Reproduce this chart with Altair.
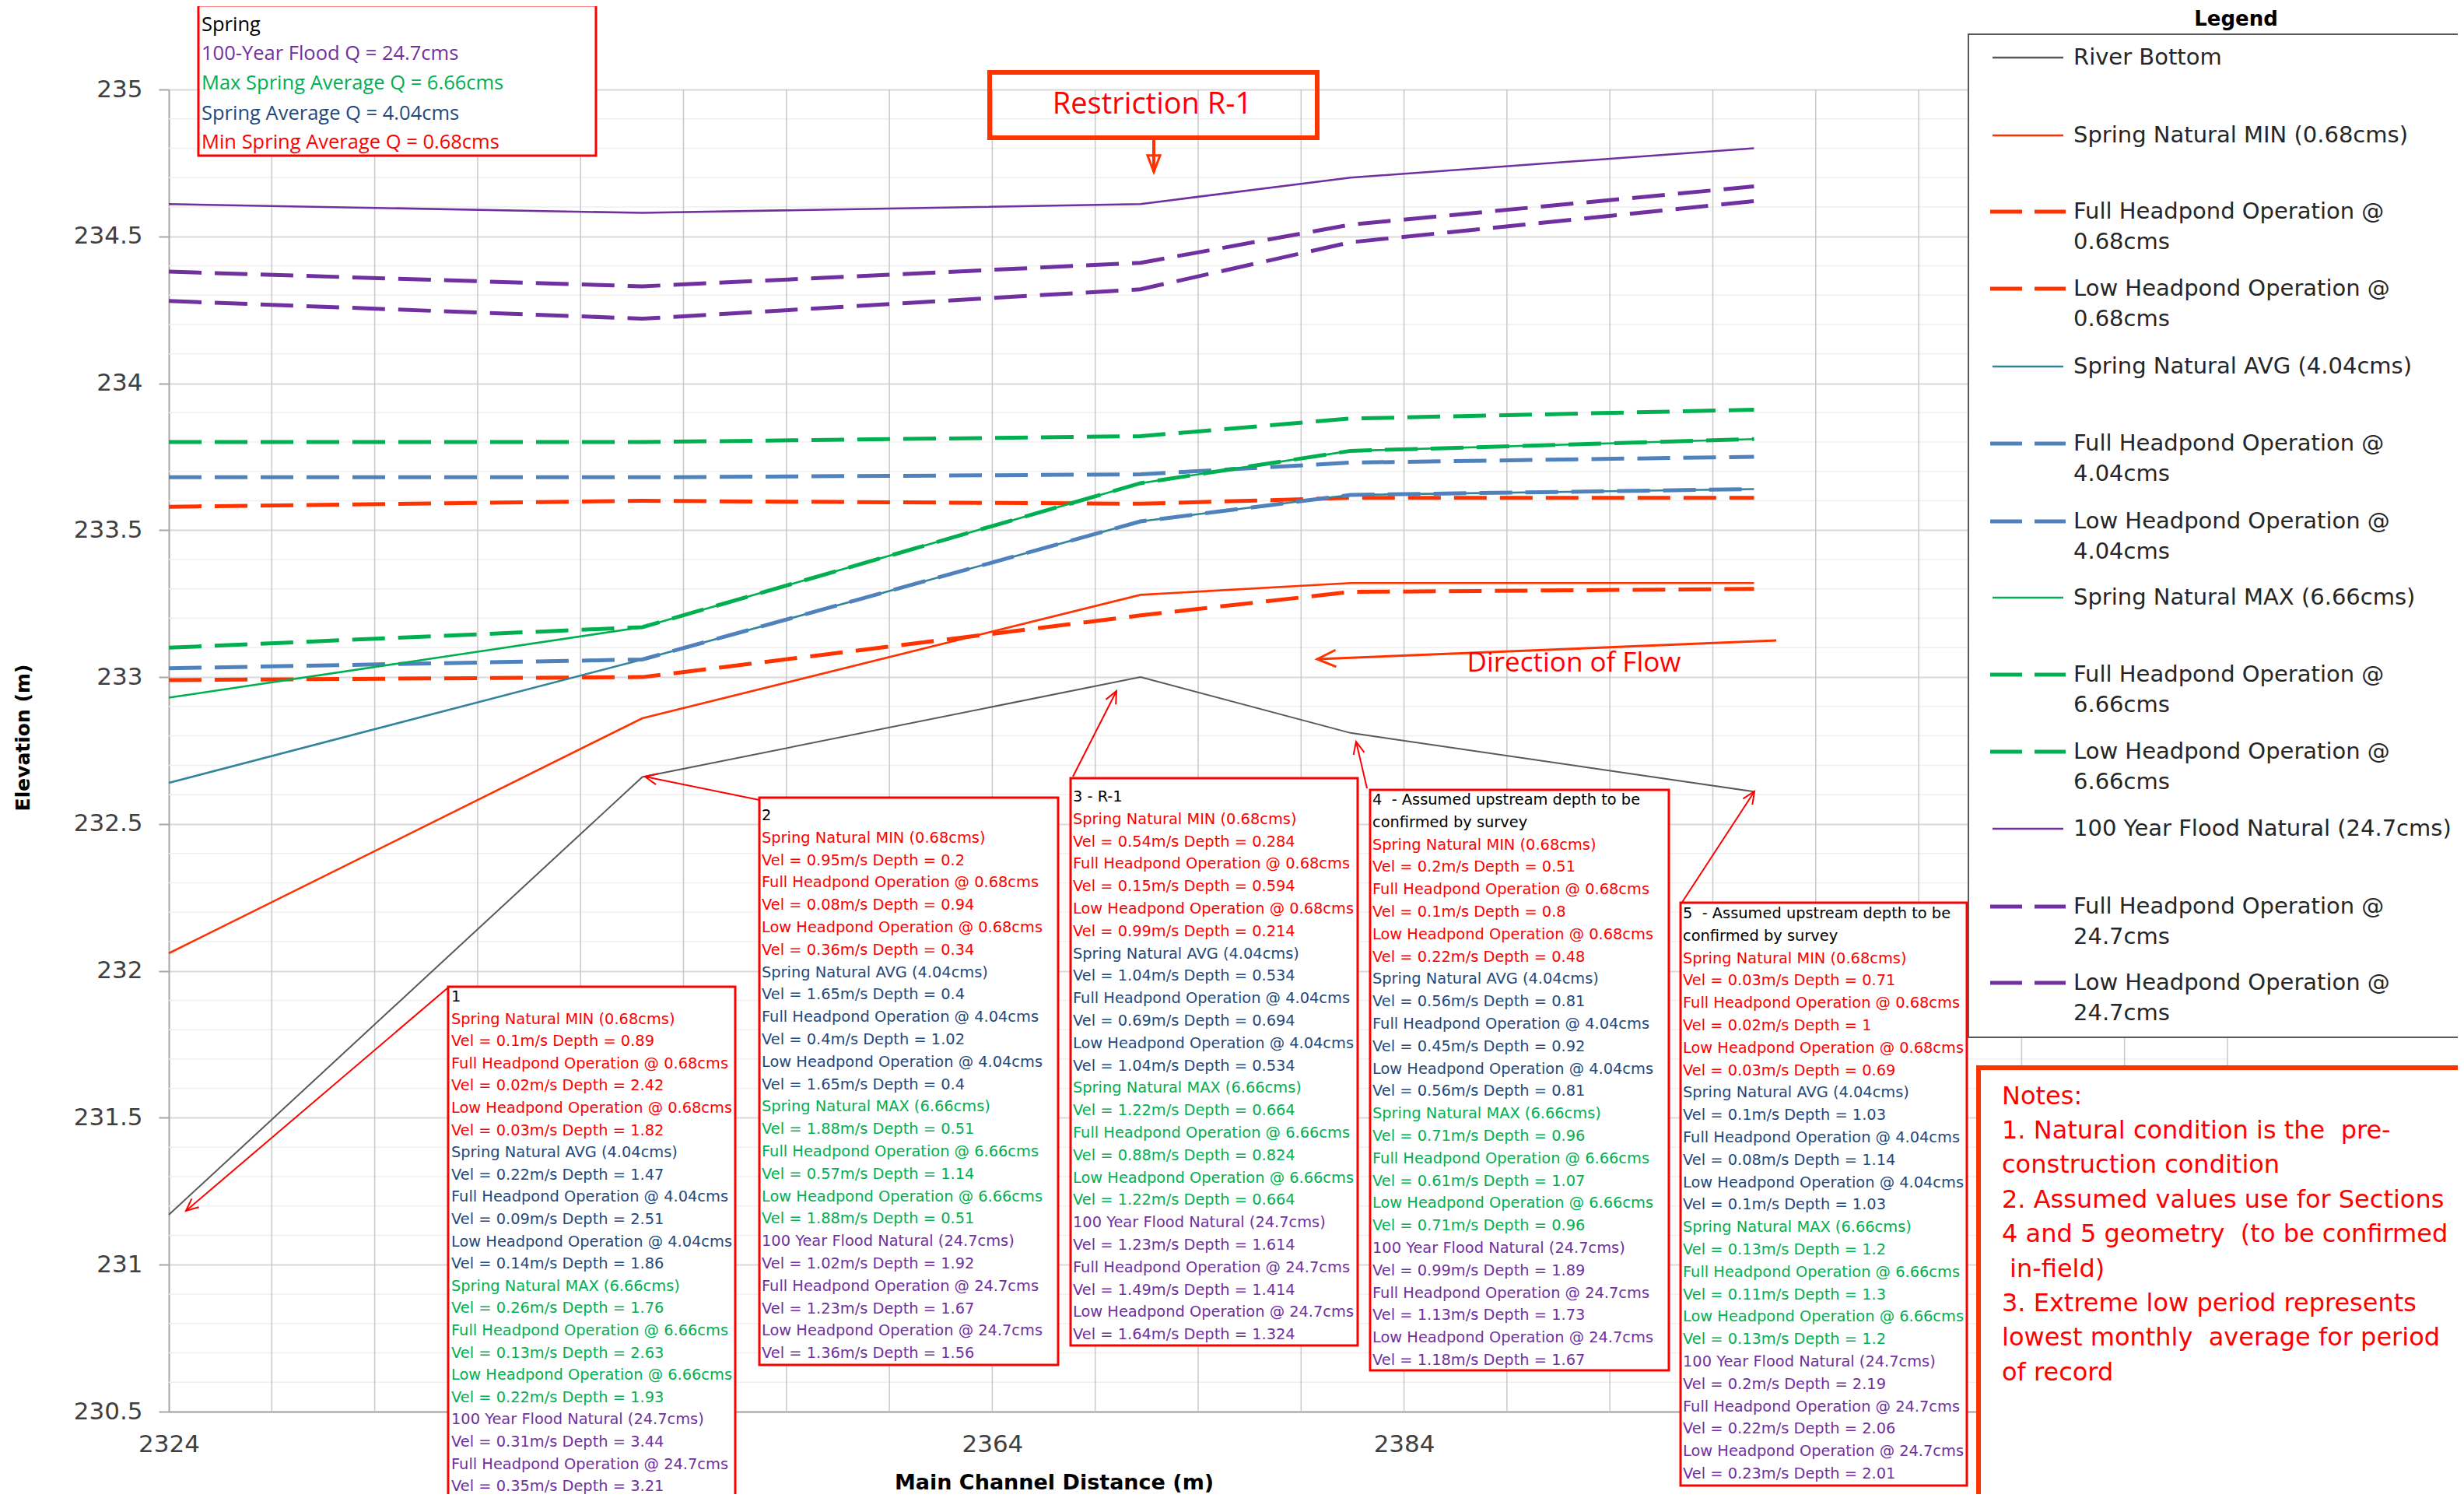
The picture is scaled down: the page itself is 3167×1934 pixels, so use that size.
import math
import altair as alt
import pandas as pd

# ---------------- values ----------------
distance = [2324.0, 2347.0, 2371.2, 2381.4, 2401.0]

river_bottom = [231.17, 232.66, 233.00, 232.81, 232.61]
spring_min   = [232.06, 232.86, 233.28, 233.32, 233.32]
full_068     = [233.58, 233.60, 233.59, 233.61, 233.61]
low_068      = [232.99, 233.00, 233.21, 233.29, 233.30]
spring_avg   = [232.64, 233.06, 233.53, 233.62, 233.64]
full_404     = [233.68, 233.68, 233.69, 233.73, 233.75]
low_404      = [233.03, 233.06, 233.53, 233.62, 233.64]
spring_max   = [232.93, 233.17, 233.66, 233.77, 233.81]
full_666     = [233.80, 233.80, 233.82, 233.88, 233.91]
low_666      = [233.10, 233.17, 233.66, 233.77, 233.81]
flood_nat    = [234.61, 234.58, 234.61, 234.70, 234.80]
full_247     = [234.38, 234.33, 234.41, 234.54, 234.67]
low_247      = [234.28, 234.22, 234.32, 234.48, 234.62]

x_ticks = [2324, 2364, 2384]
y_ticks = [230.5, 231, 231.5, 232, 232.5, 233, 233.5, 234, 234.5, 235]

conditions = ["Spring Natural MIN (0.68cms)", "Full Headpond Operation @ 0.68cms",
              "Low Headpond Operation @ 0.68cms", "Spring Natural AVG (4.04cms)",
              "Full Headpond Operation @ 4.04cms", "Low Headpond Operation @ 4.04cms",
              "Spring Natural MAX (6.66cms)", "Full Headpond Operation @ 6.66cms",
              "Low Headpond Operation @ 6.66cms", "100 Year Flood Natural (24.7cms)",
              "Full Headpond Operation @ 24.7cms", "Low Headpond Operation @ 24.7cms"]

vel_1   = ["0.1", "0.02", "0.03", "0.22", "0.09", "0.14", "0.26", "0.13", "0.22", "0.31", "0.35", None]
depth_1 = ["0.89", "2.42", "1.82", "1.47", "2.51", "1.86", "1.76", "2.63", "1.93", "3.44", "3.21", None]
vel_2   = ["0.95", "0.08", "0.36", "1.65", "0.4", "1.65", "1.88", "0.57", "1.88", "1.02", "1.23", "1.36"]
depth_2 = ["0.2", "0.94", "0.34", "0.4", "1.02", "0.4", "0.51", "1.14", "0.51", "1.92", "1.67", "1.56"]
vel_3   = ["0.54", "0.15", "0.99", "1.04", "0.69", "1.04", "1.22", "0.88", "1.22", "1.23", "1.49", "1.64"]
depth_3 = ["0.284", "0.594", "0.214", "0.534", "0.694", "0.534", "0.664", "0.824", "0.664", "1.614", "1.414", "1.324"]
vel_4   = ["0.2", "0.1", "0.22", "0.56", "0.45", "0.56", "0.71", "0.61", "0.71", "0.99", "1.13", "1.18"]
depth_4 = ["0.51", "0.8", "0.48", "0.81", "0.92", "0.81", "0.96", "1.07", "0.96", "1.89", "1.73", "1.67"]
vel_5   = ["0.03", "0.02", "0.03", "0.1", "0.08", "0.1", "0.13", "0.11", "0.13", "0.2", "0.22", "0.23"]
depth_5 = ["0.71", "1", "0.69", "1.03", "1.14", "1.03", "1.2", "1.3", "1.2", "2.19", "2.06", "2.01"]

headers = [["1"], ["2"], ["3 - R-1"],
           ["4\u00a0 - Assumed upstream depth to be", "confirmed by survey"],
           ["5\u00a0 - Assumed upstream depth to be", "confirmed by survey"]]

spring_box = ["Spring", "100-Year Flood Q = 24.7cms", "Max Spring Average Q = 6.66cms",
              "Spring Average Q = 4.04cms", "Min Spring Average Q = 0.68cms"]

notes = ["Notes:", "1. Natural condition is the\u00a0 pre-", "construction condition",
         "2. Assumed values use for Sections", "4 and 5 geometry\u00a0 (to be confirmed",
         " in-field)", "3. Extreme low period represents",
         "lowest monthly\u00a0 average for period", "of record"]

# ---------------- styles ----------------
RED, NAVY, GREEN, PURPLE, BLACK = "#FF0000", "#1F497D", "#00B050", "#7030A0", "#000000"
ORANGE = "#FF3300"
cond_colors = [RED] * 3 + [NAVY] * 3 + [GREEN] * 3 + [PURPLE] * 3
spring_colors = [BLACK, PURPLE, GREEN, NAVY, RED]
DASH = [42, 17]

series = [
    ("River Bottom", river_bottom, "#595959", None, 2),
    ("Spring Natural MIN (0.68cms)", spring_min, ORANGE, None, 2.6),
    ("Full Headpond Operation @ 0.68cms", full_068, ORANGE, DASH, 5),
    ("Low Headpond Operation @ 0.68cms", low_068, ORANGE, DASH, 5),
    ("Spring Natural AVG (4.04cms)", spring_avg, "#31849B", None, 2.6),
    ("Full Headpond Operation @ 4.04cms", full_404, "#4F81BD", DASH, 5),
    ("Low Headpond Operation @ 4.04cms", low_404, "#4F81BD", DASH, 5),
    ("Spring Natural MAX (6.66cms)", spring_max, GREEN, None, 2.6),
    ("Full Headpond Operation @ 6.66cms", full_666, GREEN, DASH, 5),
    ("Low Headpond Operation @ 6.66cms", low_666, GREEN, DASH, 5),
    ("100 Year Flood Natural (24.7cms)", flood_nat, PURPLE, None, 2.6),
    ("Full Headpond Operation @ 24.7cms", full_247, PURPLE, DASH, 5),
    ("Low Headpond Operation @ 24.7cms", low_247, PURPLE, DASH, 5),
]

# ---------------- layout (plot-area pixels) ----------------
W, H = 2646, 1699
X0, X1 = 2324, 2424
Y0, Y1 = 230.5, 235.0
XS = alt.Scale(domain=[X0, X1], nice=False, zero=False)
YS = alt.Scale(domain=[Y0, Y1], nice=False, zero=False)

XAX = alt.Axis(values=x_ticks, grid=False, ticks=False, domainColor="#A6A6A6", domainWidth=2,
               labelFont="DejaVu Sans", labelFontSize=31, labelColor="#404040", labelPadding=27,
               labelFlush=False, labelOverlap=False, title=None, format="d")
YAX = alt.Axis(values=y_ticks, grid=True, gridColor="#D9D9D9", gridWidth=2, tickSize=13,
               tickColor="#A6A6A6", tickWidth=2, domainColor="#A6A6A6", domainWidth=2,
               labelFont="DejaVu Sans", labelFontSize=31, labelColor="#404040", labelPadding=21,
               labelOverlap=False, title=None, format="~g")


def fx(px):
    return X0 + px * (X1 - X0) / W


def fy(py):
    return Y1 - py * (Y1 - Y0) / H


def X(f="x"):
    return alt.X(f"{f}:Q", scale=XS, axis=XAX)


def Y(f="y"):
    return alt.Y(f"{f}:Q", scale=YS, axis=YAX)


def text_layer(rows, font, size, weight="normal", align="left", baseline="middle", angle=0):
    df = pd.DataFrame(rows, columns=["px", "py", "text", "col"])
    df["x"] = df["px"].map(fx)
    df["y"] = df["py"].map(fy)
    return alt.Chart(df).mark_text(font=font, fontSize=size, fontWeight=weight, align=align,
                                   baseline=baseline, angle=angle).encode(
        x=X(), y=Y(), text=alt.Text("text:N"), color=alt.Color("col:N", scale=None))


def rect_layer(rows, stroke, width, fill=True):
    df = pd.DataFrame(rows, columns=["l", "t", "r", "b"])
    df["x"] = df["l"].map(fx)
    df["x2"] = df["r"].map(fx)
    df["y"] = df["t"].map(fy)
    df["y2"] = df["b"].map(fy)
    return alt.Chart(df).mark_rect(fill="white", fillOpacity=1 if fill else 0, stroke=stroke,
                                   strokeWidth=width).encode(
        x=X(), x2=alt.X2("x2:Q"), y=Y(), y2=alt.Y2("y2:Q"))


def seg_layer(rows, color, width, dash=None):
    df = pd.DataFrame(rows, columns=["a", "b", "c", "d"])
    df["x"] = df["a"].map(fx)
    df["y"] = df["b"].map(fy)
    df["x2"] = df["c"].map(fx)
    df["y2"] = df["d"].map(fy)
    kw = dict(color=color, strokeWidth=width)
    if dash:
        kw["strokeDash"] = dash
    return alt.Chart(df).mark_rule(**kw).encode(x=X(), y=Y(), x2=alt.X2("x2:Q"), y2=alt.Y2("y2:Q"))


def head_layer(rows, color, width, size, shape):
    recs = []
    for tx, ty, hx, hy in rows:
        ang = math.degrees(math.atan2(hx - tx, -(hy - ty))) % 360
        recs.append({"x": fx(hx), "y": fy(hy), "ang": ang})
    df = pd.DataFrame(recs)
    return alt.Chart(df).mark_point(shape=shape, filled=False, size=size, color=color,
                                    strokeWidth=width, opacity=1).encode(
        x=X(), y=Y(), angle=alt.Angle("ang:Q", scale=None))


V_HEAD = "M-0.45,1L0,0L0.45,1"
T_HEAD = "M0,0L-0.38,1L0.38,1Z"

layers = []

# minor horizontal & vertical grid
minor_vals = [round(Y0 + 0.1 * i, 1) for i in range(46) if i % 5 != 0]
layers.append(alt.Chart(pd.DataFrame({"y": minor_vals})).mark_rule(color="#EFEFEF", strokeWidth=1.5).encode(y=Y()))
layers.append(alt.Chart(pd.DataFrame({"x": list(range(2329, 2425, 5))})).mark_rule(color="#C9C9C9", strokeWidth=1.5).encode(x=X()))

# data lines
for name, vals, col, dash, w in series:
    df = pd.DataFrame({"x": distance, "y": vals})
    kw = dict(color=col, strokeWidth=w)
    if dash:
        kw["strokeDash"] = dash
    layers.append(alt.Chart(df).mark_line(**kw).encode(x=X(), y=Y()))

# axis titles
layers.append(text_layer([(-187, 833, "Elevation (m)", BLACK)], "DejaVu Sans", 25, "bold",
                         align="center", angle=270))
layers.append(text_layer([(1138, 1791, "Main Channel Distance (m)", BLACK)], "DejaVu Sans", 27, "bold",
                         align="center"))

# section boxes
box_rects = [(359, 1153, 728, 1840), (759, 910, 1143, 1639), (1159, 885, 1528, 1614),
             (1544, 900, 1928, 1646), (1943, 1045, 2311, 1794)]
box_text_pos = [(363, 1166), (762, 933), (1162, 909), (1547, 913), (1946, 1059)]
box_line = [28.6, 28.8, 28.8, 28.8, 28.8]
sec_vel = [vel_1, vel_2, vel_3, vel_4, vel_5]
sec_depth = [depth_1, depth_2, depth_3, depth_4, depth_5]

layers.append(rect_layer(box_rects + [(38, -108, 549, 85)], RED, 3))

box_rows = []
for hdr, vels, deps, (tx, ty), lh in zip(headers, sec_vel, sec_depth, box_text_pos, box_line):
    lines = [(h, BLACK) for h in hdr]
    for name, col, v, d in zip(conditions, cond_colors, vels, deps):
        if v is None:
            continue
        lines.append((name, col))
        lines.append((f"Vel = {v}m/s Depth = {d}", col))
    for k, (t, c) in enumerate(lines):
        box_rows.append((tx, ty + lh * k, t, c))
layers.append(text_layer(box_rows, "DejaVu Sans", 19.4))

# spring box text
spring_y = [-83, -46, -8, 31, 68]
layers.append(text_layer([(42, yy, t, c) for yy, t, c in zip(spring_y, spring_box, spring_colors)],
                         "Open Sans", 25.5))

# pointer arrows
ptr = [(359, 1154, 22, 1441), (759, 913, 612, 883), (1162, 883, 1218, 773),
       (1540, 898, 1526, 838), (1944, 1046, 2038, 902)]
layers.append(seg_layer(ptr, RED, 2))
layers.append(head_layer(ptr, RED, 2, 1000, V_HEAD))

# direction of flow
flow = [(2066, 708, 1476, 732)]
layers.append(seg_layer(flow, ORANGE, 3))
layers.append(head_layer(flow, ORANGE, 3, 2300, V_HEAD))
layers.append(text_layer([(1806, 737, "Direction of Flow", RED)], "Open Sans", 35, align="center"))

# restriction box
layers.append(rect_layer([(1055, -22, 1476, 62)], ORANGE, 6, fill=False))
layers.append(text_layer([(1264, 20, "Restriction R-1", RED)], "Open Sans", 38, align="center"))
restr = [(1266, 62, 1266, 106)]
layers.append(seg_layer(restr, ORANGE, 4))
layers.append(head_layer(restr, ORANGE, 3, 1800, T_HEAD))

# legend
layers.append(rect_layer([(2313, -71, 2990, 1218)], "#595959", 2))
layers.append(text_layer([(2657, -82, "Legend", BLACK)], "DejaVu Sans", 26, "bold",
                         align="center", baseline="alphabetic"))
leg_y = [-41, 59, 157, 256, 356, 455, 555, 653, 752, 851, 950, 1050, 1148]
leg_text_rows, solid_rows, dash_rows = [], [], []
for (name, vals, col, dash, w), yy in zip(series, leg_y):
    if " @ " in name:
        first, second = name.split(" @ ")
        leg_text_rows.append((2448, yy, first + " @", "#262626"))
        leg_text_rows.append((2448, yy + 39, second, "#262626"))
    else:
        leg_text_rows.append((2448, yy, name, "#262626"))
    if dash:
        dash_rows.append((2341, yy, 2438, col))
    else:
        solid_rows.append((2344, yy, 2435, col))
layers.append(text_layer(leg_text_rows, "DejaVu Sans", 29))


def sample_layer(rows, width, dash=None):
    df = pd.DataFrame(rows, columns=["a", "b", "c", "col"])
    df["x"] = df["a"].map(fx)
    df["y"] = df["b"].map(fy)
    df["x2"] = df["c"].map(fx)
    kw = dict(strokeWidth=width)
    if dash:
        kw["strokeDash"] = dash
    return alt.Chart(df).mark_rule(**kw).encode(
        x=X(), y=Y(), x2=alt.X2("x2:Q"), color=alt.Color("col:N", scale=None))


layers.append(sample_layer(solid_rows, 2.5))
layers.append(sample_layer(dash_rows, 5, [41, 16]))

# notes
layers.append(rect_layer([(2326, 1257, 2990, 1900)], ORANGE, 6))
note_rows = []
for k, t in enumerate(notes):
    xx = 2356 + (10 if t.startswith(" ") else 0)
    note_rows.append((xx, 1293.5 + 44.4 * k, t.strip(), RED))
layers.append(text_layer(note_rows, "DejaVu Sans", 32))

chart = alt.layer(*layers).properties(
    width=W, height=H,
    padding={"left": 209, "top": 107, "right": 296, "bottom": 106},
    autosize=alt.AutoSizeParams(type="none"),
    background="white",
).configure_view(stroke=None)

chart.save("out.html", embed_options={"renderer": "svg", "actions": False})
